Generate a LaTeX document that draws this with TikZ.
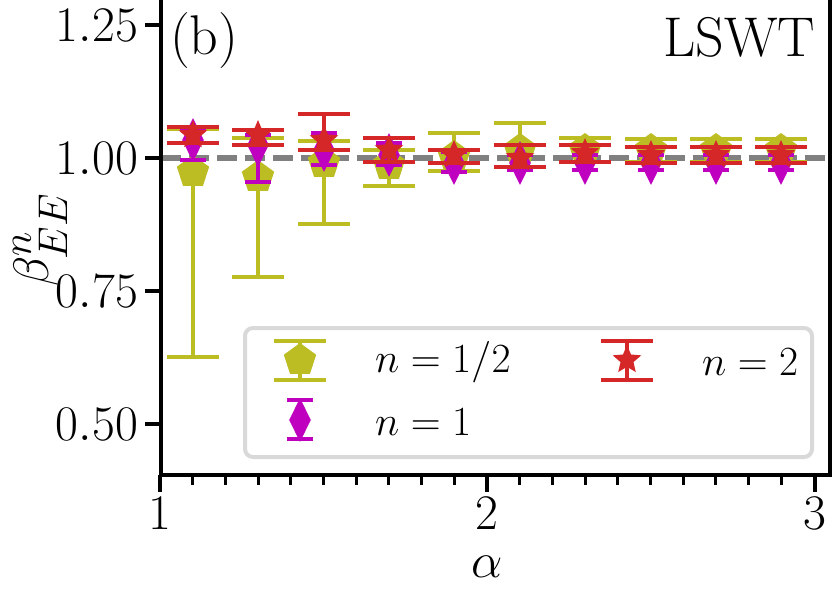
\documentclass[tikz,border=0pt]{standalone}
\usepackage{amsmath}
\usetikzlibrary{shapes.geometric}
\definecolor{colorY}{RGB}{188,189,34}
\definecolor{colorM}{RGB}{191,0,191}
\definecolor{colorR}{RGB}{214,39,40}
\tikzset{
  ebar/.style={line width=2pt},
  pent/.style={regular polygon, regular polygon sides=5, fill=colorY, inner sep=0pt, minimum size=17pt},
  diam/.style={diamond, fill=colorM, inner sep=0pt, minimum width=11pt, minimum height=22pt},
  starm/.style={star, star points=5, star point ratio=2.2, fill=colorR, inner sep=0pt, minimum size=15pt},
  ticklab/.style={font=\fontsize{28}{32}\selectfont},
  leglab/.style={font=\fontsize{21}{24}\selectfont, anchor=west}
}
% x, mean, top, bottom (in pixels), colour, half cap, marker style
\newcommand{\errpt}[7]{%
  \draw[ebar, #5] (#1,#3) -- (#1,#4);
  \draw[ebar, #5] (#1-#6,#3) -- (#1+#6,#3);
  \draw[ebar, #5] (#1-#6,#4) -- (#1+#6,#4);
  \node[#7] at (#1,#2) {};
}
\begin{document}
\begin{tikzpicture}[x=0.5pt, y=-0.5pt]
\useasboundingbox (0,0) rectangle (832,589);

\begin{scope}
\clip (161,0) rectangle (830,475);
\draw[gray, line width=3pt, dash pattern=on 10pt off 4pt] (161,158) -- (830,158);
% n = 1/2
\foreach \x/\m/\t/\b in {193/172/129/357, 258/177/138/277, 324/163/141/224, 389/165/150/186,
  454/157/133/171, 520/150/123/167, 585/150/138/162, 651/150/139/162, 716/150/139/162, 781/150/139/162}
  {\errpt{\x}{\m}{\t}{\b}{colorY}{26}{pent}}
% n = 1
\foreach \x/\m/\t/\b in {193/140/128/160, 258/145/135/182, 324/150/133/165, 389/155/143/165,
  454/163/152/172, 520/163/155/170, 585/163/155/170, 651/163/155/170, 716/163/155/170, 781/163/155/170}
  {\errpt{\x}{\m}{\t}{\b}{colorM}{13}{diam}}
% n = 2
\foreach \x/\m/\t/\b in {193/135/127/143, 258/135/130/145, 324/140/114/150, 389/150/138/162,
  454/155/150/163, 520/158/145/167, 585/153/145/162, 651/155/147/163, 716/155/147/163, 781/155/147/163}
  {\errpt{\x}{\m}{\t}{\b}{colorR}{26}{starm}}
\end{scope}

% legend
\draw[gray!30, line width=2pt, fill=white, fill opacity=0.8, rounded corners=4pt] (245,328) rectangle (812,457);
\errpt{300}{360}{341}{380}{colorY}{26}{pent}
\errpt{300}{420}{400}{439}{colorM}{13}{diam}
\errpt{627}{360}{341}{380}{colorR}{26}{starm}
\node[leglab] (labY) at (368,362) {$n = 1/2$};
\node[leglab] (labM) at (368,422) {$n = 1$};
\node[leglab] (labR) at (695,362) {$n = 2$};

% frame and ticks
\draw[line width=2pt] (161,-5) rectangle (830,475);
\foreach \y/\v in {25/1.25, 158/1.00, 291/0.75, 424/0.50} {
  \draw[line width=2pt] (161,\y) -- (145,\y);
  \node[ticklab, anchor=east] (yt\v) at (145,\y) {$\v$};
}
\foreach \i in {0,...,20} {
  \pgfmathsetmacro{\xx}{160+32.7*\i}
  \draw[line width=1.5pt] (\xx,475) -- (\xx,485);
}
\foreach \xx/\v in {160/1, 487/2, 815/3} {
  \draw[line width=2pt] (\xx,475) -- (\xx,492);
  \node[ticklab] (xt\v) at (\xx,513) {$\v$};
}
\node[ticklab] (xlab) at (487,567) {$\alpha$};
\node[ticklab, rotate=90] (ylab) at (40,240) {$\beta^{n}_{EE}$};
\node[ticklab, anchor=north west] (panel) at (163,5) {(b)};
\node[ticklab, anchor=north east] (meth) at (822,10) {LSWT};
\end{tikzpicture}
\end{document}
